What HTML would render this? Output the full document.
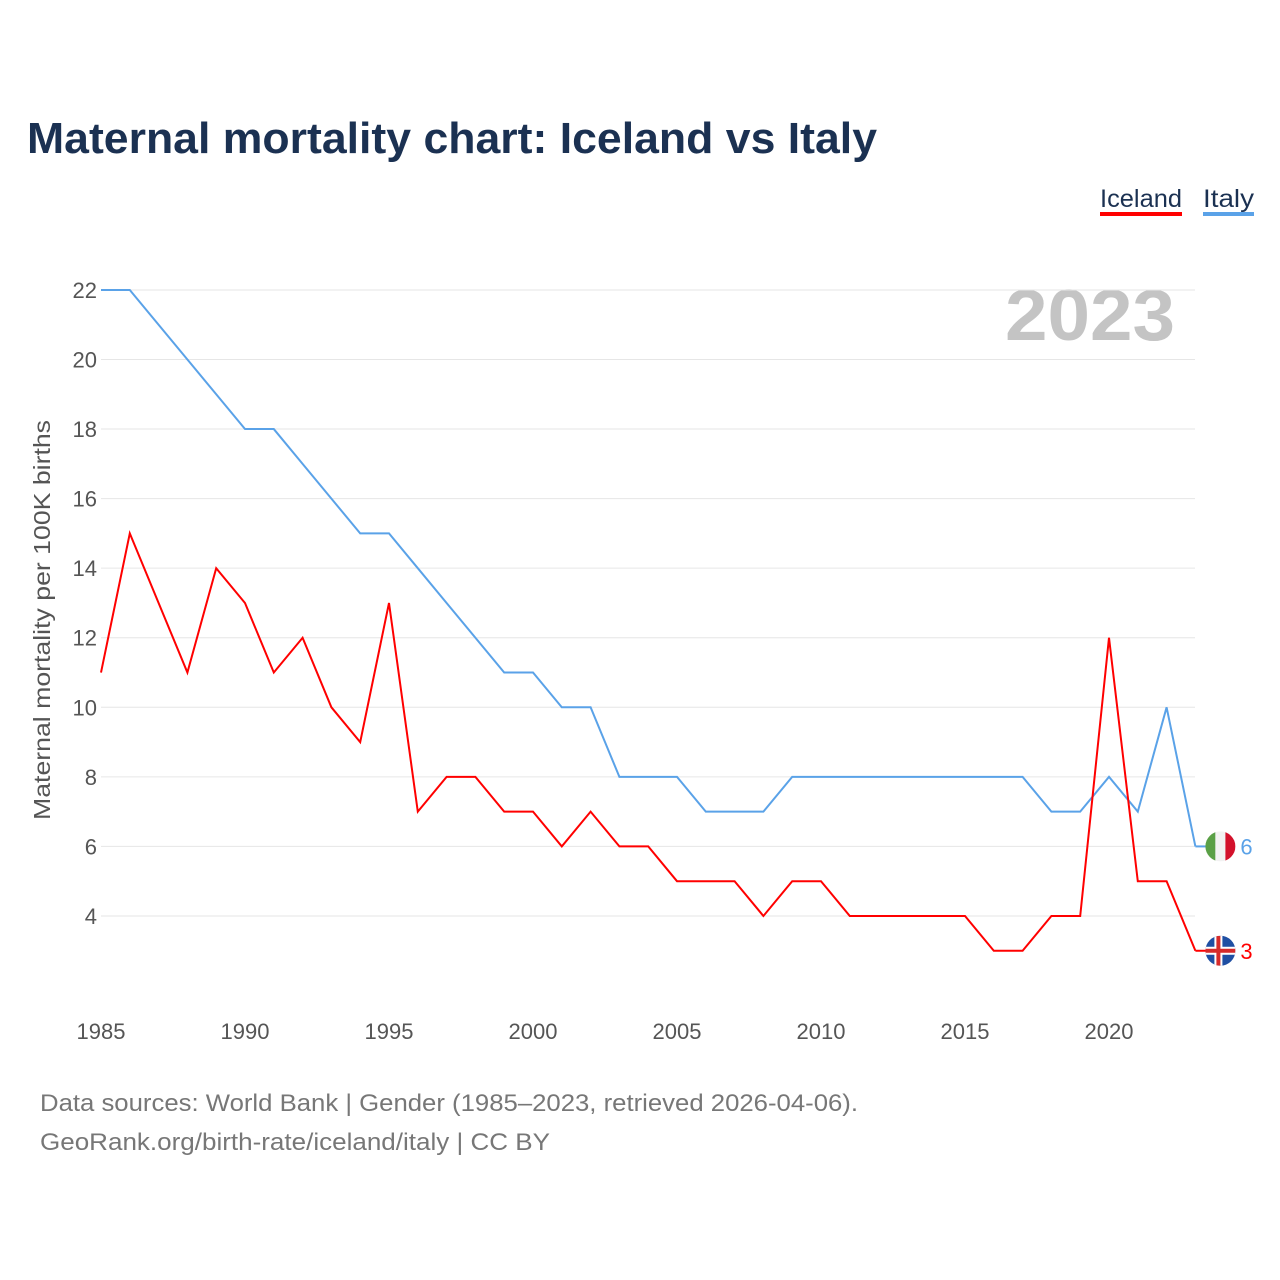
<!DOCTYPE html>
<html><head><meta charset="utf-8">
<style>
body{margin:0;background:#fff;font-family:"Liberation Sans",sans-serif;}
#wrap{position:relative;width:1280px;height:1280px;overflow:hidden;}
</style></head>
<body>
<div id="wrap">
<svg id="chart" width="1280" height="1280" font-family="Liberation Sans, sans-serif">
<text x="27" y="153" font-size="44" font-weight="bold" fill="#1b3152" textLength="850" lengthAdjust="spacingAndGlyphs">Maternal mortality chart: Iceland vs Italy</text>
<g>
<text x="1100" y="207" font-size="25" fill="#1b3152" textLength="82" lengthAdjust="spacingAndGlyphs">Iceland</text>
<rect x="1100" y="212" width="82" height="4" fill="#ff0000"/></g>
<g>
<text x="1203" y="207" font-size="25" fill="#1b3152" textLength="51" lengthAdjust="spacingAndGlyphs">Italy</text>
<rect x="1203" y="212" width="51" height="4" fill="#5aa2e8"/></g>
<text x="1175" y="340" font-size="72" font-weight="bold" fill="#c4c4c4" text-anchor="end" textLength="170" lengthAdjust="spacingAndGlyphs">2023</text>
<text transform="translate(50,620) rotate(-90)" font-size="23" fill="#555" text-anchor="middle" textLength="400" lengthAdjust="spacingAndGlyphs">Maternal mortality per 100K births</text>
<g id="grid"></g><g id="yt"></g><g id="xt"></g><g id="lines"></g>
<text x="40" y="1111" font-size="24" fill="#777" textLength="818" lengthAdjust="spacingAndGlyphs">Data sources: World Bank | Gender (1985–2023, retrieved 2026-04-06).</text>
<text x="40" y="1150" font-size="24" fill="#777" textLength="510" lengthAdjust="spacingAndGlyphs">GeoRank.org/birth-rate/iceland/italy | CC BY</text>
</svg>
</div>
<script>
const years=[];for(let y=1985;y<=2023;y++)years.push(y);
const iceland=[11,15,13,11,14,13,11,12,10,9,13,7,8,8,7,7,6,7,6,6,5,5,5,4,5,5,4,4,4,4,4,3,3,4,4,12,5,5,3];
const italy=[22,22,21,20,19,18,18,17,16,15,15,14,13,12,11,11,10,10,8,8,8,7,7,7,8,8,8,8,8,8,8,8,8,7,7,8,7,10,6];
const yTicks=[4,6,8,10,12,14,16,18,20,22];
const xTicks=[1985,1990,1995,2000,2005,2010,2015,2020];
const NS="http://www.w3.org/2000/svg";
const X=y=>101+(y-1985)*28.8;
const Y=v=>1055.1-v*34.78;
function mk(t,a,p){const e=document.createElementNS(NS,t);for(const k in a)e.setAttribute(k,a[k]);p.appendChild(e);return e;}
const grid=document.getElementById('grid'),yt=document.getElementById('yt'),xt=document.getElementById('xt'),lines=document.getElementById('lines');
yTicks.forEach(v=>{
 const l=mk('line',{x1:101,x2:1195,y1:Y(v),y2:Y(v),stroke:'#e6e6e6','stroke-width':1},grid);
 
 
 const t=mk('text',{x:97,y:Y(v)+8,'font-size':22,fill:'#555','text-anchor':'end'},yt);t.textContent=v;
 
 
});
xTicks.forEach(v=>{
 const t=mk('text',{x:X(v),y:1039,'font-size':22,fill:'#555','text-anchor':'middle'},xt);t.textContent=v;
 
 
});
function series(vals,color,name){
 const p=mk('polyline',{points:vals.map((v,i)=>X(years[i])+','+Y(v)).join(' '),fill:'none',stroke:color,'stroke-width':2},lines);
 
 
}
series(italy,'#5aa2e8','italy');
series(iceland,'#ff0000','iceland');
function endLabel(vals,color,name,flag){
 const v=vals[vals.length-1],x=X(2023),y=Y(v);
 mk('line',{x1:x,x2:x+12,y1:y,y2:y,stroke:color,'stroke-width':2},lines);
 const g=mk('g',{},lines);
 
 
 const cx=x+25,r=15;
 const cpath=mk('clipPath',{id:'c'+name},g);
 mk('circle',{cx:cx,cy:y,r:r},cpath);
 const inner=mk('g',{'clip-path':'url(#c'+name+')'},g);
 if(flag==='it'){
  mk('rect',{x:cx-r,y:y-r,width:10,height:30,fill:'#5aa046'},inner);
  mk('rect',{x:cx-5,y:y-r,width:10,height:30,fill:'#f2f2f2'},inner);
  mk('rect',{x:cx+5,y:y-r,width:10,height:30,fill:'#d3112b'},inner);
 }else{
  mk('rect',{x:cx-r,y:y-r,width:30,height:30,fill:'#1f4fa3'},inner);
  mk('rect',{x:cx-r,y:y-4,width:30,height:8,fill:'#fff'},inner);
  mk('rect',{x:cx-6,y:y-r,width:8,height:30,fill:'#fff'},inner);
  mk('rect',{x:cx-r,y:y-2,width:30,height:4,fill:'#d62a2a'},inner);
  mk('rect',{x:cx-4,y:y-r,width:4,height:30,fill:'#d62a2a'},inner);
 }
 const t=mk('text',{x:cx+20,y:y+8,'font-size':22,fill:color},lines);t.textContent=v;
 
 
}
endLabel(italy,'#5aa2e8','italy','it');
endLabel(iceland,'#ff0000','iceland','is');
</script>
</body></html>
